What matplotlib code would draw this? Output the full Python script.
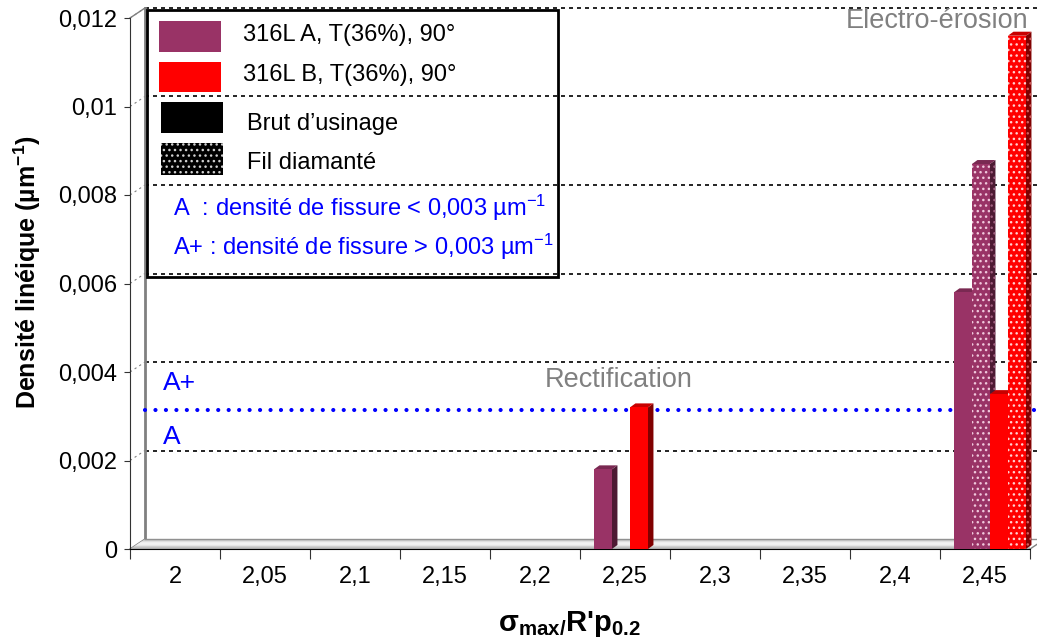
import numpy as np
import matplotlib
matplotlib.use("Agg")
import matplotlib.pyplot as plt
from matplotlib.patches import Rectangle, Polygon

# ---------------- data ----------------
categories = ["2", "2,05", "2,1", "2,15", "2,2", "2,25", "2,3", "2,35", "2,4", "2,45"]
a_brut = [0, 0, 0, 0, 0, 0.0018, 0, 0, 0, 0.0058]
a_fil = [0, 0, 0, 0, 0, 0, 0, 0, 0, 0.0087]
b_brut = [0, 0, 0, 0, 0, 0.0032, 0, 0, 0, 0.0035]
b_fil = [0, 0, 0, 0, 0, 0, 0, 0, 0, 0.0116]
y_ticks = [0, 0.002, 0.004, 0.006, 0.008, 0.010, 0.012]
y_tick_labels = ["0", "0,002", "0,004", "0,006", "0,008", "0,01", "0,012"]
threshold = 0.003
series_names = ["316L A, T(36%), 90°", "316L B, T(36%), 90°"]
finish_names = ["Brut d’usinage", "Fil diamanté"]

plt.rcParams['font.family'] = ['Liberation Sans', 'DejaVu Sans']
plt.rcParams['mathtext.fontset'] = 'custom'
plt.rcParams['mathtext.rm'] = 'Liberation Sans'
plt.rcParams['mathtext.it'] = 'Liberation Sans:italic'
plt.rcParams['mathtext.bf'] = 'Liberation Sans:bold'
plt.rcParams['hatch.linewidth'] = 1.0

W, H = 1037, 642
X0, X1 = 130, 1030
Y0, Y1 = 549, 18
fig = plt.figure(figsize=(W / 100, H / 100), dpi=100)
ax = fig.add_axes([X0 / W, 1 - Y0 / H, (X1 - X0) / W, (Y0 - Y1) / H])
ncat = len(categories)
ymax = y_ticks[-1]
ax.set_xlim(0, ncat)
ax.set_ylim(0, ymax)
px_x = ncat / (X1 - X0)
px_y = ymax / (Y0 - Y1)
WDX, WDY = 15, 10          # wall depth (px)
BDX, BDY = 5.5, 4          # bar depth (px)

# ---------------- walls / floor ----------------
wx, wy = WDX * px_x, WDY * px_y
gray = '#808080'
for v in y_ticks[1:]:
    ax.plot([wx, ncat + 7 * px_x], [v + wy, v + wy], color='black', lw=1.2,
            ls=(0, (2.4, 2.4)), zorder=1, clip_on=False)
    ax.plot([0, wx], [v, v + wy], color=gray, lw=0.8, ls=(0, (2, 3)),
            zorder=1, clip_on=False)
ax.plot([wx, wx], [wy, ymax + wy], color=gray, lw=2, zorder=1.2, clip_on=False)
ax.plot([0, wx], [ymax, ymax + wy], color=gray, lw=1, zorder=1.2, clip_on=False)
ax.plot([0, wx], [0, wy], color=gray, lw=1, zorder=1.2, clip_on=False)

floor = Polygon([(0, 0), (ncat, 0), (ncat + wx, wy), (wx, wy)], closed=True,
                facecolor='none', edgecolor='none', transform=ax.transData)
ax.add_patch(floor)
grad = np.array([0.70, 0.80, 0.90, 0.95, 0.93, 0.86, 0.72]).reshape(-1, 1)
im = ax.imshow(grad, cmap='gray', vmin=0, vmax=1, aspect='auto', origin='lower',
               extent=[0, ncat + wx, 0, wy], zorder=1.5, clip_on=True)
im.set_clip_path(floor)
ax.plot([wx, ncat + wx], [wy, wy], color='#909090', lw=1, zorder=1.6, clip_on=False)
ax.plot([ncat, ncat + wx], [0, wy], color=gray, lw=1, zorder=1.6, clip_on=False)
ax.set_xlim(0, ncat)
ax.set_ylim(0, ymax)

# threshold line
ax.plot([wx, ncat + 7 * px_x], [threshold + 6 * px_y] * 2, color='#0000ff', lw=3,
        ls=(0, (0.01, 2.5)), dash_capstyle='round', zorder=2.5, clip_on=False)

# ---------------- 3D bars ----------------
series = [
    (a_brut, '#993366', '#4d1a33', '#7a2952', None, None),
    (a_fil, '#993366', '#4d1a33', '#7a2952', '...', '#f0c8dc'),
    (b_brut, '#ff0000', '#800000', '#c80000', None, None),
    (b_fil, '#ff0000', '#800000', '#c80000', '...', '#ffd0d0'),
]
bw = 0.2
x_base = np.arange(ncat) + 0.155
bdx, bdy = BDX * px_x, BDY * px_y
for k, (vals, fc, sc, tc, hatch, hc) in enumerate(series):
    xs = x_base + bw * k
    z = 3 + 0.1 * k
    bars = ax.bar(xs, vals, width=bw, align='edge', color=fc, lw=0,
                  hatch=hatch, edgecolor=hc if hc else fc, zorder=z + 0.05,
                  clip_on=False)
    for rect, v in zip(bars, vals):
        if v <= 0:
            rect.set_visible(False)
            continue
        x = rect.get_x()
        side = Polygon([(x + bw, 0), (x + bw + bdx, bdy), (x + bw + bdx, v + bdy), (x + bw, v)],
                       closed=True, facecolor=sc, edgecolor=('#a06080' if hc and k == 1 else '#d06060') if hc else sc,
                       lw=0, hatch=hatch, zorder=z, clip_on=False)
        top = Polygon([(x, v), (x + bw, v), (x + bw + bdx, v + bdy), (x + bdx, v + bdy)],
                      closed=True, facecolor=tc, edgecolor=tc, lw=0, zorder=z, clip_on=False)
        ax.add_patch(side)
        ax.add_patch(top)

# ---------------- axes ----------------
for s in ['top', 'right']:
    ax.spines[s].set_visible(False)
ax.spines['left'].set_color('#333333')
ax.spines['bottom'].set_color('black')
ax.set_facecolor('none')
ax.set_yticks(y_ticks)
ax.set_yticklabels(y_tick_labels, fontsize=17)
ax.tick_params(axis='y', direction='out', length=4.3, pad=5, color='#333333')
ax.set_xticks(np.arange(ncat + 1))
ax.set_xticklabels([])
ax.set_xticks(np.arange(ncat) + 0.5, minor=True)
ax.set_xticklabels(categories, minor=True, fontsize=17)
ax.tick_params(axis='x', which='major', direction='out', length=7.5, color='#333333')
ax.tick_params(axis='x', which='minor', length=0, pad=12)

# ---------------- overlay (annotations, legend) ----------------
ov = fig.add_axes([0, 0, 1, 1])
ov.set_xlim(0, W)
ov.set_ylim(H, 0)
ov.axis('off')
ov.set_zorder(5)
ov.patch.set_visible(False)

fig.text(27 / W, 1 - 272 / H, "Densité linéique (µm$^{\\mathbf{-1}}$)", rotation=90,
         ha='center', va='center', fontsize=18, fontweight='bold')
fig.text(570 / W, 1 - 624 / H, "σ$_{\\mathbf{max/}}$R'p$_{\\mathbf{0.2}}$",
         ha='center', va='center', fontsize=21, fontweight='bold')

ov.text(163, 383, "A+", color='#0000ff', fontsize=19, ha='left', va='center')
ov.text(163, 437, "A", color='#0000ff', fontsize=19, ha='left', va='center')
ov.text(619, 380, "Rectification", color=gray, fontsize=19.5, ha='center', va='center')
ov.text(1028, 21, "Electro-érosion", color=gray, fontsize=19.5, ha='right', va='center')

ov.add_patch(Rectangle((147, 10), 411, 267, fill=False, edgecolor='black', lw=2))
ov.add_patch(Rectangle((159, 21), 62, 31, facecolor='#993366', lw=0))
ov.add_patch(Rectangle((159, 62), 62, 30, facecolor='#ff0000', lw=0))
ov.add_patch(Rectangle((161, 102), 62, 31, facecolor='black', lw=0))
ov.add_patch(Rectangle((161, 143), 62, 32, facecolor='black', edgecolor='#d0d0d0',
                       hatch='...', lw=0))
ov.text(243, 35, series_names[0], fontsize=17, va='center')
ov.text(243, 75, series_names[1], fontsize=17, va='center')
ov.text(247, 124, finish_names[0], fontsize=17, va='center')
ov.text(247, 163, finish_names[1], fontsize=17, va='center')
ov.text(173, 208, "A  : densité de fissure < 0,003 µm$^{-1}$", color='#0000ff',
        fontsize=17, va='center')
ov.text(173, 247, "A+ : densité de fissure > 0,003 µm$^{-1}$", color='#0000ff',
        fontsize=17, va='center')

fig.savefig('out.png', dpi=100)
